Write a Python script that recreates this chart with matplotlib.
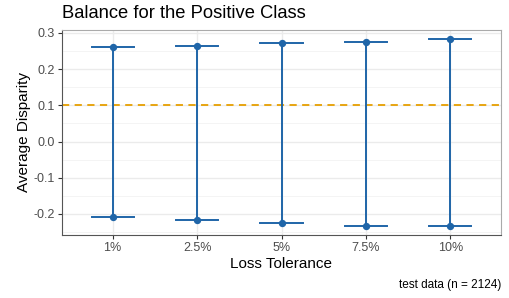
import matplotlib
matplotlib.use("Agg")
import matplotlib.pyplot as plt
import numpy as np
from matplotlib.ticker import MultipleLocator

plt.rcParams['font.family'] = ['Liberation Sans', 'DejaVu Sans']

categories = ["1%", "2.5%", "5%", "7.5%", "10%"]
upper = [0.262, 0.265, 0.271, 0.276, 0.282]
lower = [-0.208, -0.216, -0.226, -0.234, -0.234]
threshold = 0.1
yticks = [-0.2, -0.1, 0.0, 0.1, 0.2, 0.3]
ytick_labels = ["-0.2", "-0.1", "0.0", "0.1", "0.2", "0.3"]

blue = "#1f65a8"
fig = plt.figure(figsize=(5.09, 2.98), dpi=100)
ax = fig.add_axes([62/509, 1-235/298, (501-62)/509, (235-30)/298])

x = np.arange(1, len(categories)+1)
ax.set_xlim(0.4, len(categories)+0.6)
ax.set_ylim(-0.258, 0.308)

ax.yaxis.set_major_locator(MultipleLocator(0.1))
ax.yaxis.set_minor_locator(MultipleLocator(0.05))
ax.grid(which='major', color='#ebebeb', lw=1.0, zorder=0)
ax.grid(which='minor', axis='y', color='#f2f2f2', lw=0.6, zorder=0)
ax.set_axisbelow(True)

ax.axhline(threshold, color='#E69F00', lw=1.3, ls=(0, (4, 3)), zorder=2)

for xi, lo, hi in zip(x, lower, upper):
    ax.plot([xi, xi], [lo, hi], color=blue, lw=1.4, zorder=3)
    ax.plot([xi-0.25, xi+0.25], [lo, lo], color=blue, lw=1.4, zorder=3)
    ax.plot([xi-0.25, xi+0.25], [hi, hi], color=blue, lw=1.4, zorder=3)
ax.scatter(x, upper, color=blue, s=28, zorder=4, linewidths=0)
ax.scatter(x, lower, color=blue, s=28, zorder=4, linewidths=0)

ax.set_xticks(x)
ax.set_xticklabels(categories)
ax.set_yticks(yticks)
ax.set_yticklabels(ytick_labels)
ax.tick_params(axis='both', which='major', labelsize=9, labelcolor='#4d4d4d',
               color='#333333', length=3, width=0.8, pad=2)
ax.tick_params(axis='both', which='minor', length=0)
for name, s in ax.spines.items():
    s.set_color('#555555' if name in ('left', 'bottom') else '#aaaaaa')
    s.set_linewidth(0.8)

ax.set_xlabel("Loss Tolerance", fontsize=11, labelpad=2)
ax.set_ylabel("Average Disparity", fontsize=11, labelpad=2)
fig.text(62/509, 1-14/298, "Balance for the Positive Class", fontsize=13.2, va='center', ha='left')
fig.text(501/509, 1-285/298, "test data (n = 2124)", fontsize=8.5, va='center', ha='right')

fig.savefig("out.png", dpi=100)
